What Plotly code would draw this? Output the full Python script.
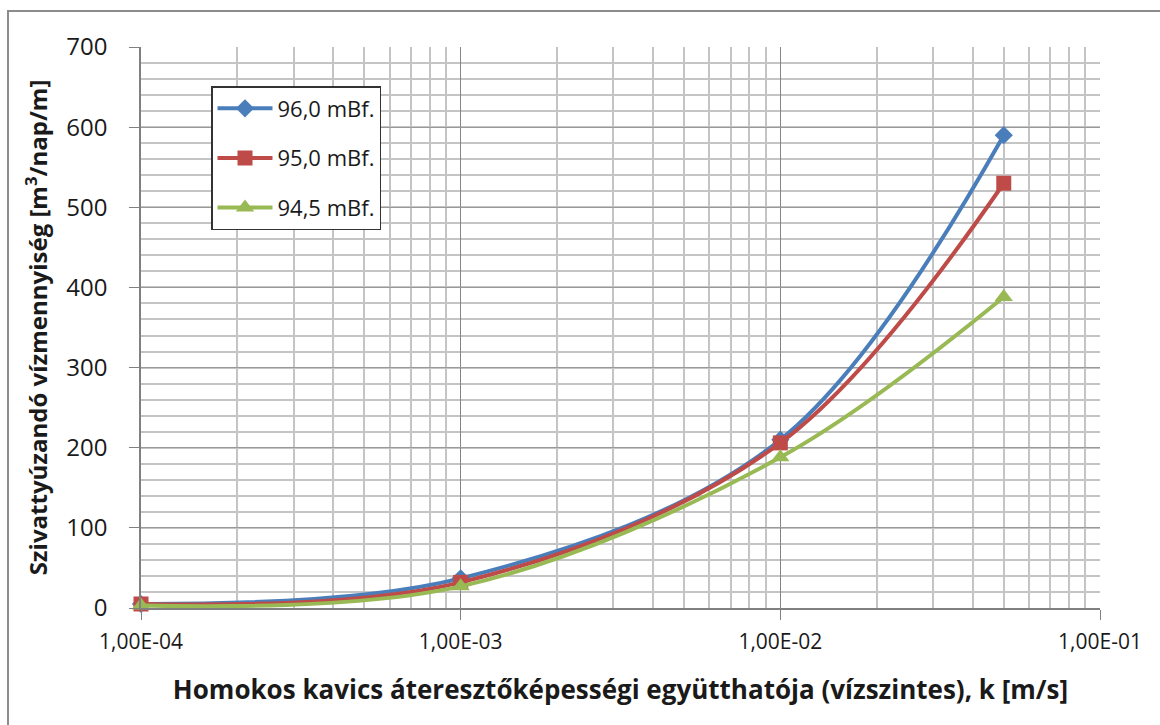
import plotly.graph_objects as go

# Hydraulic conductivity of sandy gravel, k [m/s]
k_values = [1e-4, 1e-3, 1e-2, 5e-2]

# Pumped water volume [m3/day/m] for each water level
q_960 = [5, 37, 210, 590]
q_950 = [5, 32, 206, 530]
q_945 = [3, 27, 188, 388]

series_names = ["96,0 mBf.", "95,0 mBf.", "94,5 mBf."]
series_values = [q_960, q_950, q_945]
series_colors = ["#4A7EBB", "#BE4B48", "#98B954"]
series_symbols = ["diamond", "square", "triangle-up"]
series_sizes = [14, 15, 16]

x_tick_vals = [1e-4, 1e-3, 1e-2, 1e-1]
x_tick_text = ["1,00E-04", "1,00E-03", "1,00E-02", "1,00E-01"]
x_minor_vals = [m * d for d in (1e-4, 1e-3, 1e-2) for m in range(2, 10)]

y_tick_vals = list(range(0, 701, 100))

FONT = "'Open Sans', sans-serif"

fig = go.Figure()
for i, (name, vals, col, sym, sz) in enumerate(
        zip(series_names, series_values, series_colors, series_symbols, series_sizes)):
    fig.add_trace(go.Scatter(
        x=k_values, y=vals, name=name, mode="lines+markers",
        line=dict(color=col, width=4, shape="spline", smoothing=1.0),
        marker=dict(symbol=sym, size=sz, color=col),
        legendgroup=f"g{i}", cliponaxis=False,
    ))

L, R, T, B = 141, 60, 47, 117
W, H = 1160, 725
pw, ph = W - L - R, H - T - B

# outer chart frame
fig.add_shape(type="rect", xref="paper", yref="paper",
              x0=(8 - L) / pw, x1=(W + 20 - L) / pw,
              y0=(H - B - (H + 20)) / ph, y1=(H - B - 11) / ph,
              line=dict(color="#8c8c8c", width=2), fillcolor="rgba(0,0,0,0)",
              layer="below")

fig.update_layout(
    width=W, height=H,
    margin=dict(l=L, r=R, t=T, b=B),
    paper_bgcolor="white", plot_bgcolor="white",
    font=dict(family=FONT, size=20, color="#1a1a1a"),
    showlegend=True,
    legend=dict(
        x=(211 - L) / pw, y=(H - B - 86) / ph, xanchor="left", yanchor="top",
        bgcolor="white", bordercolor="#333333", borderwidth=1.5,
        font=dict(family=FONT, size=22, color="#1a1a1a"),
        tracegroupgap=18, itemwidth=55,
    ),
    xaxis=dict(
        type="log", range=[-4, -1],
        tickmode="array", tickvals=x_tick_vals, ticktext=x_tick_text,
        ticks="outside", ticklen=10, tickcolor="#808080",
        ticklabelstandoff=4,
        showgrid=True, gridcolor="#858585", gridwidth=1,
        minor=dict(tickmode="array", tickvals=x_minor_vals, showgrid=True,
                   gridcolor="#c4c4c4", gridwidth=1.5, ticks=""),
        showline=True, linecolor="#808080", linewidth=1.5,
        zeroline=False,
        title=dict(text="Homokos kavics áteresztőképességi együtthatója (vízszintes), k [m/s]",
                   font=dict(family=FONT, size=26, color="#1a1a1a", weight="bold"),
                   standoff=27),
        tickfont=dict(size=21),
    ),
    yaxis=dict(
        range=[0, 700],
        tickmode="array", tickvals=y_tick_vals,
        ticks="outside", ticklen=10, tickcolor="#808080",
        ticklabelstandoff=17,
        showgrid=True, gridcolor="#9a9a9a", gridwidth=1,
        minor=dict(dtick=20, showgrid=True, gridcolor="#c4c4c4", gridwidth=1.5, ticks=""),
        showline=True, linecolor="#808080", linewidth=1.5,
        zeroline=False,
        title=dict(text="Szivattyúzandó vízmennyiség [m<sup>3</sup>/nap/m]",
                   font=dict(family=FONT, size=24, color="#1a1a1a", weight="bold"),
                   standoff=12),
        tickfont=dict(size=24),
    ),
)

fig.write_html("out.html")
